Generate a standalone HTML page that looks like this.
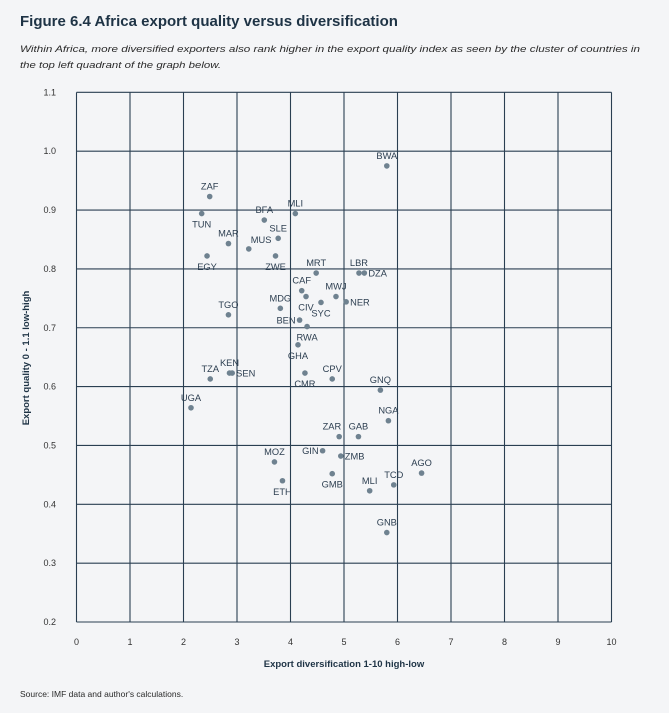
<!DOCTYPE html>
<html><head><meta charset="utf-8"><style>
html,body{margin:0;padding:0;background:#f4f5f7;}
body{width:669px;height:708px;overflow:hidden;font-family:"Liberation Sans",sans-serif;}
svg text{font-family:"Liberation Sans",sans-serif;}
</style></head><body>
<svg id="chart" width="669" height="708">
<text x="20" y="26" font-size="15" font-weight="bold" fill="#1e3345">Figure 6.4 Africa export quality versus diversification</text>
<text x="20" y="52" font-size="9.6" font-style="italic" fill="#2a2a2a" textLength="620" lengthAdjust="spacingAndGlyphs">Within Africa, more diversified exporters also rank higher in the export quality index as seen by the cluster of countries in</text>
<text x="20" y="68" font-size="9.6" font-style="italic" fill="#2a2a2a" textLength="201" lengthAdjust="spacingAndGlyphs">the top left quadrant of the graph below.</text>
<g id="grid"></g><g id="pts"></g>
<text x="344" y="667" font-size="9.5" font-weight="bold" fill="#1e3345" text-anchor="middle">Export diversification 1-10 high-low</text>
<text transform="translate(29,358) rotate(-90)" font-size="9.5" font-weight="bold" fill="#1e3345" text-anchor="middle">Export quality 0 - 1.1 low-high</text>
<text x="20" y="697" font-size="8.5" fill="#2a2a2a">Source: IMF data and author's calculations.</text>
</svg>
<script>
const xTicks=[0,1,2,3,4,5,6,7,8,9,10];
const yTicks=[0.2,0.3,0.4,0.5,0.6,0.7,0.8,0.9,1.0,1.1];
const codes=["BWA","ZAF","TUN","MLI","BFA","SLE","MAR","MUS","EGY","ZWE","MRT","LBR","DZA","CAF","CIV","MWJ","SYC","NER","MDG","TGO","BEN","RWA","GHA","KEN","SEN","TZA","CMR","CPV","GNQ","UGA","NGA","ZAR","GAB","GIN","ZMB","MOZ","GMB","AGO","TCD","MLI","ETH","GNB"];
const xVals=[5.80,2.49,2.34,4.09,3.51,3.77,2.84,3.22,2.44,3.72,4.48,5.28,5.38,4.21,4.29,4.85,4.57,5.04,3.81,2.84,4.17,4.31,4.14,2.86,2.91,2.50,4.27,4.78,5.68,2.14,5.83,4.91,5.27,4.60,4.94,3.70,4.78,6.45,5.93,5.48,3.85,5.80];
const yVals=[0.975,0.923,0.894,0.894,0.883,0.852,0.843,0.834,0.822,0.822,0.793,0.793,0.793,0.763,0.753,0.753,0.743,0.744,0.733,0.722,0.713,0.702,0.671,0.623,0.623,0.613,0.623,0.613,0.594,0.564,0.542,0.515,0.515,0.491,0.482,0.472,0.452,0.453,0.433,0.423,0.440,0.352];
// label placement: a=above, b=below, l=left, r=right
const place=["a","a","b","a","a","a","a","ar","b","b","a","a","r","a","b","a","b","r","a","a","l","b","b","a","r","a","b","a","a","a","a","al","a","l","r","a","b","a","a","a","b","a"];
const X=v=>76.5+v*53.5, Y=v=>622-(v-0.2)*588.5;
const ns="http://www.w3.org/2000/svg";
const grid=document.getElementById('grid'), pts=document.getElementById('pts');
function mk(p,t,a){const e=document.createElementNS(ns,t);for(const k in a)e.setAttribute(k,a[k]);p.appendChild(e);return e;}
xTicks.forEach(t=>{
 const l=mk(grid,'line',{x1:X(t),x2:X(t),y1:Y(0.2),y2:Y(1.1),stroke:'#2a3f52','stroke-width':1.1});
 
 
 const tx=mk(grid,'text',{x:X(t),y:645,'font-size':9,fill:'#333','text-anchor':'middle'});tx.textContent=t;
 
 
});
yTicks.forEach(t=>{
 const l=mk(grid,'line',{x1:X(0),x2:X(10),y1:Y(t),y2:Y(t),stroke:'#2a3f52','stroke-width':1.1});
 
 
 const tx=mk(grid,'text',{x:56,y:Y(t)+3,'font-size':9,fill:'#333','text-anchor':'end'});tx.textContent=t.toFixed(1);
 
 
});
codes.forEach((c,i)=>{
 const cx=X(xVals[i]),cy=Y(yVals[i]);
 const d=mk(pts,'circle',{cx:cx,cy:cy,r:2.8,fill:'#6f8290'});
 
 
 const p=place[i];let lx=cx,ly=cy-7,anc='middle';
 if(p==='b'){ly=cy+14;}
 if(p==='l'){lx=cx-4;ly=cy+3.5;anc='end';}
 if(p==='r'){lx=cx+4;ly=cy+3.5;anc='start';}
 if(p==='ar'){lx=cx+2;anc='start';ly=cy-6;}
 if(p==='al'){lx=cx+2;ly=cy-7;anc='end';}
 const t=mk(pts,'text',{x:lx,y:ly,'font-size':9.3,fill:'#2c3e50','text-anchor':anc});t.textContent=c;
 
 
});
</script>
</body></html>
